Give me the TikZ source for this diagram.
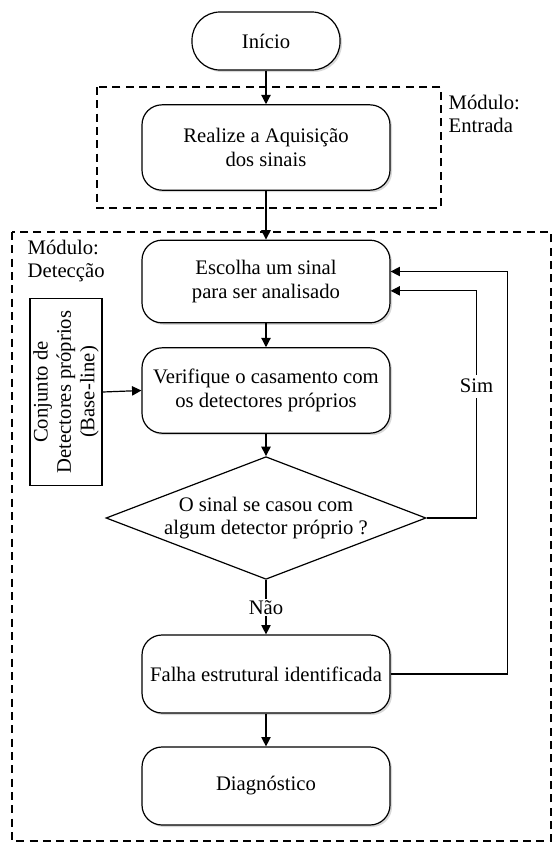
\documentclass[tikz,border=0pt]{standalone}
\usepackage{fontspec}
\setmainfont{Liberation Serif}
\usetikzlibrary{shapes.geometric,arrows.meta,shadows}

\tikzset{
  bloco/.style={rectangle,draw,rounded corners=15pt,fill=white,line width=0.9pt,
    minimum width=186pt,align=center,
    drop shadow={shadow xshift=1.5pt,shadow yshift=-1.5pt,fill=black!30}},
  decisao/.style={diamond,draw,fill=white,line width=0.9pt,aspect=2.6,inner sep=0pt,
    minimum width=240pt,minimum height=92pt,align=center},
  modulo/.style={draw,line width=0.9pt,dash pattern=on 6pt off 4pt},
  seta/.style={line width=0.9pt,-{Triangle[length=7pt,width=7pt]}}
}

\begin{document}
\begin{tikzpicture}[x=0.75pt,y=-0.75pt,font=\fontsize{15.5}{17.5}\selectfont]
            \useasboundingbox (0,0) rectangle (553,843);

            % modulos
            \draw[modulo] (97,87) rectangle (441,208);
            \draw[modulo] (12,232) rectangle (551,841);
            \node[anchor=west,align=left] (entrada) at (444,114) {M\'odulo:\\Entrada};
            \node[anchor=west,align=left] (deteccao) at (23,261) {M\'odulo:\\Detec\c{c}\~ao};

            % blocos
            \node[bloco,rounded corners=21pt,minimum width=111pt,minimum height=43.5pt] (inicio) at (266,41) {In\'icio};
            \node[bloco,minimum height=64pt] (aquisicao) at (266,147.5) {Realize a Aquisi\c{c}\~ao\\dos sinais};
            \node[bloco,minimum height=62pt] (escolha) at (266,281.5) {Escolha um sinal\\para ser analisado};
            \node[bloco,minimum height=64pt] (verifique) at (266,390.5) {Verifique o casamento com\\os detectores pr\'oprios};
            \node[decisao] (decisao) at (266,518) {O sinal se casou com\\algum detector pr\'oprio ?};
            \node[bloco,minimum height=58.5pt] (falha) at (266,674) {Falha estrutural identificada};
            \node[bloco,minimum height=58.5pt] (diagnostico) at (266,786) {Diagn\'ostico};
            \node[draw,line width=1.1pt,rotate=90,minimum width=140pt,minimum height=54pt,
              inner sep=0pt,align=center] (conjunto) at (66,392) {Conjunto de\\Detectores pr\'oprios\\(Base-line)};

            % ligacoes
            \draw[seta] (inicio) -- (aquisicao);
            \draw[seta] (aquisicao) -- (escolha);
            \draw[seta] (escolha) -- (verifique);
            \draw[seta] (verifique) -- (decisao);
            \draw[seta] (conjunto.south) -- (verifique.west);
            \draw[seta] (decisao.south) -- node[fill=white,inner sep=1pt] {N\~ao} (falha.north);
            \draw[seta] (falha) -- (diagnostico);
            \draw[seta] (decisao.east) -- ++(50,0) |- node[pos=0.29,fill=white] {Sim} ([yshift=-7pt]escolha.east);
            \draw[seta] (falha.east) -- ++(117,0) |- ([yshift=7.5pt]escolha.east);
        \end{tikzpicture}
\end{document}
